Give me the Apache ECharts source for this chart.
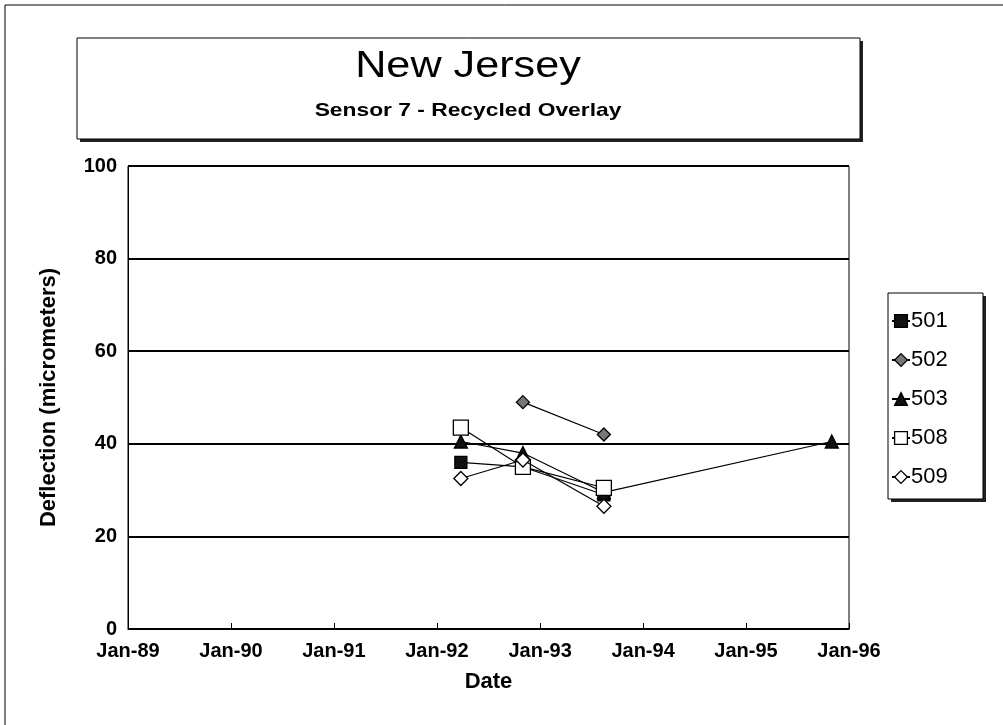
<!DOCTYPE html>
<html>
<head>
<meta charset="utf-8">
<script src="https://cdn.jsdelivr.net/npm/echarts@6/dist/echarts.min.js"></script>
<style>
html,body{margin:0;padding:0;background:#fff;}
#chart{width:1003px;height:725px;}
</style>
</head>
<body>
<div id="chart"></div>
<script>
const titleText = 'New Jersey';
const subtitleText = 'Sensor 7 - Recycled Overlay';
const yAxisName = 'Deflection (micrometers)';
const xAxisName = 'Date';
const seriesNames = ['501', '502', '503', '508', '509'];

const dates501 = ['1992-03-26', '1992-11-01', '1993-08-15'];
const values501 = [36, 35, 29];
const dates502 = ['1992-11-01', '1993-08-15'];
const values502 = [49, 42];
const dates503 = ['1992-03-26', '1992-11-01', '1993-08-15', '1995-11-01'];
const values503 = [40.5, 38, 29.5, 40.5];
const dates508 = ['1992-03-26', '1992-11-01', '1993-08-15'];
const values508 = [43.5, 35, 30.5];
const dates509 = ['1992-03-26', '1992-11-01', '1993-08-15'];
const values509 = [32.5, 36.5, 26.5];

const xMin = '1989-01-01';
const xMax = '1996-01-01';

const FONT = '"Liberation Sans", Arial, sans-serif';
const DAY = 24 * 3600 * 1000;

function pairs(d, v) { return d.map((x, i) => [x, v[i]]); }

const styles = [
  { symbol: 'rect', symbolSize: 12, color: '#111' },
  { symbol: 'diamond', symbolSize: 13, color: '#777' },
  { symbol: 'triangle', symbolSize: 13, color: '#111' },
  { symbol: 'rect', symbolSize: 15, color: '#fff' },
  { symbol: 'diamond', symbolSize: 14, color: '#fff' }
];
const allData = [
  pairs(dates501, values501),
  pairs(dates502, values502),
  pairs(dates503, values503),
  pairs(dates508, values508),
  pairs(dates509, values509)
];

const chart = echarts.init(document.getElementById('chart'), null, { renderer: 'canvas' });
chart.setOption({
  backgroundColor: '#fff',
  animation: false,
  textStyle: { fontFamily: FONT, color: '#000' },
  graphic: [
    { type: 'rect', shape: { x: 5, y: 5, width: 1020, height: 740 },
      style: { fill: 'none', stroke: '#000', lineWidth: 1 }, z: -10, silent: true },
    { type: 'rect', shape: { x: 80, y: 41, width: 783, height: 101 },
      style: { fill: '#222', stroke: null }, z: 1, silent: true },
    { type: 'rect', shape: { x: 77, y: 38, width: 783, height: 101 },
      style: { fill: '#fff', stroke: '#000', lineWidth: 1 }, z: 2, silent: true },
    { type: 'text', x: 468, y: 67, scaleX: 1.2, z: 3, silent: true,
      style: { text: titleText, x: 0, y: 0, align: 'center', verticalAlign: 'middle', font: '36px ' + FONT, fill: '#000' } },
    { type: 'text', x: 468, y: 111, scaleX: 1.2, z: 3, silent: true,
      style: { text: subtitleText, x: 0, y: 0, align: 'center', verticalAlign: 'middle', font: 'bold 19px ' + FONT, fill: '#000' } },
    { type: 'rect', shape: { x: 891, y: 296, width: 95, height: 206 },
      style: { fill: '#222', stroke: null }, z: 1, silent: true },
    { type: 'rect', shape: { x: 888, y: 293, width: 95, height: 206 },
      style: { fill: '#fff', stroke: '#000', lineWidth: 1 }, z: 2, silent: true }
  ],
  legend: {
    orient: 'vertical',
    left: 891,
    top: 310,
    padding: 0,
    itemGap: 17,
    itemWidth: 18,
    itemHeight: 16,
    itemStyle: { borderWidth: 1.3, borderColor: '#000' },
    textStyle: { fontSize: 22, lineHeight: 22, fontFamily: FONT, color: '#000', padding: [0, 0, 0, -4] },
    data: seriesNames,
    z: 5
  },
  grid: {
    left: 128, right: 154, top: 166, bottom: 96,
    show: true, borderColor: '#000', borderWidth: 1, backgroundColor: '#fff'
  },
  xAxis: {
    type: 'time',
    min: xMin,
    max: xMax,
    minInterval: 365 * DAY,
    maxInterval: 366 * DAY,
    splitNumber: 7,
    name: xAxisName,
    nameLocation: 'middle',
    nameGap: 42,
    nameTextStyle: { fontSize: 22, fontWeight: 'bold', color: '#000', fontFamily: FONT },
    axisLine: { show: true, lineStyle: { color: '#000', width: 1 } },
    axisTick: { show: true, inside: true, length: 6, lineStyle: { color: '#000' } },
    splitLine: { show: false },
    axisLabel: {
      show: true, fontSize: 20, fontWeight: 'bold', color: '#000', fontFamily: FONT, margin: 12,
      showMinLabel: true, showMaxLabel: true,
      formatter: function (val) {
        const d = new Date(val);
        return 'Jan-' + String(d.getFullYear()).slice(2);
      }
    }
  },
  yAxis: {
    type: 'value',
    min: 0, max: 100, interval: 20,
    name: yAxisName,
    nameLocation: 'middle',
    nameGap: 68,
    nameTextStyle: { fontSize: 22, fontWeight: 'bold', color: '#000', fontFamily: FONT },
    axisLine: { show: true, lineStyle: { color: '#000', width: 1 } },
    axisTick: { show: false },
    splitLine: { show: true, lineStyle: { color: '#000', width: 2 } },
    axisLabel: { fontSize: 20, fontWeight: 'bold', color: '#000', fontFamily: FONT, margin: 11 }
  },
  series: seriesNames.map((name, i) => ({
    name: name,
    type: 'line',
    data: allData[i],
    symbol: styles[i].symbol,
    symbolSize: styles[i].symbolSize,
    showAllSymbol: true,
    lineStyle: { color: '#000', width: 1.2 },
    itemStyle: { color: styles[i].color, borderColor: '#000', borderWidth: 1.3 },
    emphasis: { disabled: true },
    z: 3 + i
  }))
});
</script>
</body>
</html>
